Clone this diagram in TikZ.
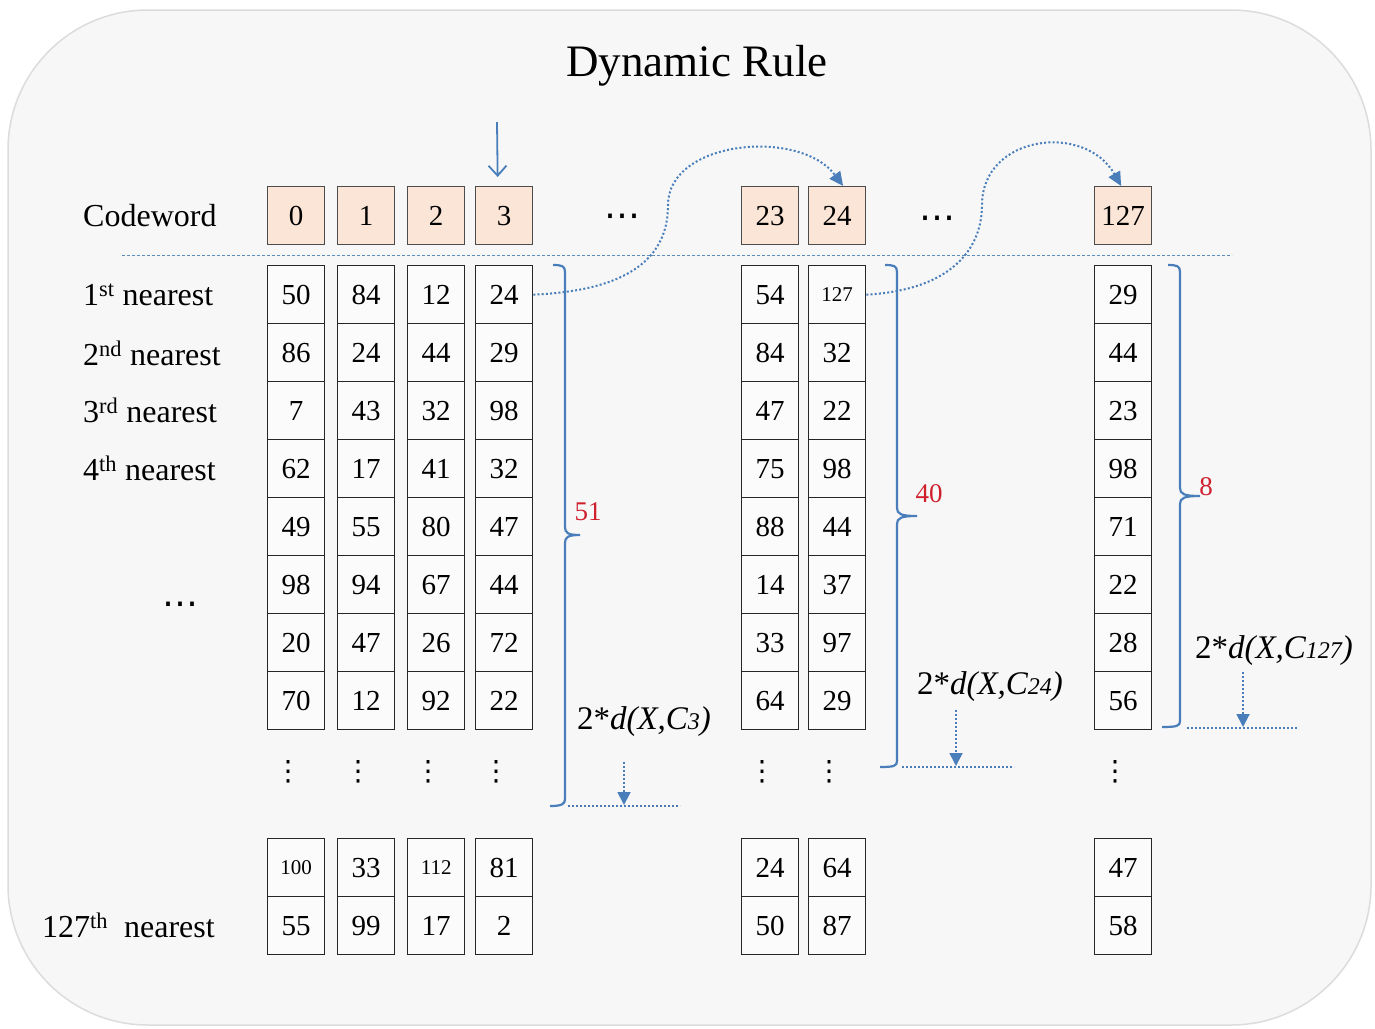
\documentclass[tikz,border=0pt]{standalone}
\usepackage{fontspec}
\setmainfont{Liberation Serif}
\newfontfamily\dotfont{DejaVu Sans}
\usetikzlibrary{arrows.meta}

\definecolor{bgfill}{HTML}{F7F7F7}
\definecolor{bgline}{HTML}{DCDCDC}
\definecolor{cellfill}{HTML}{FBFBFB}
\definecolor{peach}{HTML}{FBE5D6}
\definecolor{linkblue}{HTML}{4A7EBB}
\definecolor{sepblue}{HTML}{5B8DBA}
\definecolor{countred}{HTML}{D0202E}

\tikzset{
  cellbox/.style={draw=black!85, line width=1.3pt, fill=cellfill,
    minimum width=57pt, minimum height=58pt, inner sep=0pt,
    anchor=north west, font=\fontsize{29}{30}\selectfont},
  codebox/.style={cellbox, fill=peach, draw=black!70},
  rowlabel/.style={anchor=west, inner sep=0pt, font=\fontsize{32}{34}\selectfont},
  countlbl/.style={inner sep=0pt, text=countred, font=\fontsize{27}{28}\selectfont},
  distlbl/.style={inner sep=0pt, font=\fontsize{33}{34}\selectfont},
  bracestyle/.style={draw=linkblue, line width=2.2pt},
  hop/.style={draw=linkblue, line width=2pt, dash pattern=on 2pt off 2.2pt,
    -{Triangle[length=14pt,width=13pt]}},
  limit/.style={draw=linkblue, line width=1.8pt, dash pattern=on 2pt off 2pt},
  drop/.style={draw=linkblue, line width=1.8pt, dash pattern=on 2pt off 2pt,
    -{Triangle[length=13pt,width=13pt]}},
  hdots/.style={inner sep=0pt, font=\dotfont\fontsize{36}{36}\selectfont},
  vdotsym/.style={inner sep=0pt, font=\dotfont\fontsize{28}{28}\selectfont},
}

% number inside a cell: three-digit entries are set smaller
\newcommand\cellnum[1]{\ifnum#1>99 {\fontsize{21}{22}\selectfont#1}\else#1\fi}

% one column of neighbour cells: index, left x, eight upper values, two lower values
\newcommand\drawcol[5]{%
  \foreach \v [count=\r from 0] in {#3} {
    \node[cellbox] (c#1r\r) at (#2,265+58*\r) {\cellnum{\v}};
  }
  \node[cellbox] (c#1r8) at (#2,838) {\cellnum{#4}};
  \node[cellbox] (c#1r9) at (#2,896) {\cellnum{#5}};
  \node[vdotsym] (v#1) at (#2+21,772) {⋮};
}

% distance label with a small italic index
\newcommand\dist[1]{2*\textit{d(X,C{\fontsize{24}{24}\selectfont#1})}}

\begin{document}
\begin{tikzpicture}[x=1pt, y=-1pt]
  % canvas and rounded panel
  \fill[white] (0,0) rectangle (1375,1028);
  \useasboundingbox (0,0) rectangle (1375,1028);
  \draw[fill=bgfill, draw=bgline, line width=1.5pt, rounded corners=140pt]
    (8,10) rectangle (1371,1025);

  % title
  \node[inner sep=0pt, font=\fontsize{45}{46}\selectfont] (title) at (697,66) {Dynamic Rule};

  % codeword row
  \foreach \c/\x/\k in {0/267/0, 1/337/1, 2/407/2, 3/475/3, 4/741/23, 5/808/24, 6/1094/127}
    \node[codebox] (k\c) at (\x,186) {\k};

  % separator between codewords and neighbour lists
  \coordinate (sepL) at (122,255);
  \coordinate (sepR) at (1232,255);
  \draw[sepblue, line width=1pt, dash pattern=on 3pt off 2pt] (sepL) -- (sepR);

  % neighbour lists
  \drawcol{0}{267}{50,86,7,62,49,98,20,70}{100}{55}
  \drawcol{1}{337}{84,24,43,17,55,94,47,12}{33}{99}
  \drawcol{2}{407}{12,44,32,41,80,67,26,92}{112}{17}
  \drawcol{3}{475}{24,29,98,32,47,44,72,22}{81}{2}
  \drawcol{4}{741}{54,84,47,75,88,14,33,64}{24}{50}
  \drawcol{5}{808}{127,32,22,98,44,37,97,29}{64}{87}
  \drawcol{6}{1094}{29,44,23,98,71,22,28,56}{47}{58}

  % row labels
  \node[rowlabel] (lcw) at (83,216) {Codeword};
  \node[rowlabel] (l1) at (83,295) {1\textsuperscript{st} nearest};
  \node[rowlabel] (l2) at (83,353) {2\textsuperscript{nd} nearest};
  \node[rowlabel] (l3) at (83,410) {3\textsuperscript{rd} nearest};
  \node[rowlabel] (l4) at (83,468) {4\textsuperscript{th} nearest};
  \node[rowlabel] (l127) at (42,925) {127\textsuperscript{th}\enspace nearest};

  % ellipses
  \node[hdots] (hd1) at (180,609) {⋯};
  \node[hdots] (hd2) at (622,221) {⋯};
  \node[hdots] (hd3) at (937,223) {⋯};

  % current codeword marker
  \coordinate (start) at (497,122);
  \draw[linkblue, line width=1.8pt, -{Straight Barb[length=10pt,width=18pt]}]
    (start) -- ([xshift=-6.5pt,yshift=9pt]k3.north);

  % hops to the first nearest codeword
  \coordinate (bend1) at (668,205);
  \draw[hop] (c3r0.east) .. controls (640,290) and (668,250) .. (bend1)
    .. controls (668,140) and (800,128) .. ([xshift=6pt]k5.north);
  \coordinate (bend2) at (982,205);
  \draw[hop] (c5r0.east) .. controls (950,290) and (982,250) .. (bend2)
    .. controls (982,135) and (1085,122) .. ([xshift=-2pt]k6.north);

  % braces grouping the entries within the distance bound
  \draw[bracestyle] (553,265) .. controls (562,265) and (565,266) .. (565,272)
    -- (565,527) .. controls (565,533) and (568,535) .. (580,535)
    .. controls (568,535) and (565,537) .. (565,543)
    -- (565,799) .. controls (565,804) and (562,806) .. (550,806);
  \draw[bracestyle] (885,265) .. controls (894,265) and (897,266) .. (897,272)
    -- (897,508) .. controls (897,514) and (901,516) .. (917,516)
    .. controls (901,516) and (897,518) .. (897,524)
    -- (897,761) .. controls (897,766) and (894,767) .. (880,767);
  \draw[bracestyle] (1168,265) .. controls (1177,265) and (1180,266) .. (1180,272)
    -- (1180,488) .. controls (1180,494) and (1184,496) .. (1200,496)
    .. controls (1184,496) and (1180,498) .. (1180,504)
    -- (1180,721) .. controls (1180,726) and (1177,727) .. (1162,727);

  % counts inside each bound
  \node[countlbl] (n1) at (588,512) {51};
  \node[countlbl] (n2) at (929,494) {40};
  \node[countlbl] (n3) at (1206,487) {8};

  % distance bounds
  \node[distlbl] (dist1) at (644,722) {\dist{3}};
  \node[distlbl] (dist2) at (990,687) {\dist{24}};
  \node[distlbl] (dist3) at (1274,651) {\dist{127}};

  \coordinate (b1a) at (568,806);  \coordinate (b1b) at (680,806);
  \coordinate (b2a) at (902,767);  \coordinate (b2b) at (1014,767);
  \coordinate (b3a) at (1187,728); \coordinate (b3b) at (1297,728);
  \draw[limit] (b1a) -- (b1b);
  \draw[limit] (b2a) -- (b2b);
  \draw[limit] (b3a) -- (b3b);

  \coordinate (p1) at (624,762);  \coordinate (q1) at (624,805);
  \coordinate (p2) at (956,710);  \coordinate (q2) at (956,766);
  \coordinate (p3) at (1243,672); \coordinate (q3) at (1243,727);
  \draw[drop] (p1) -- (q1);
  \draw[drop] (p2) -- (q2);
  \draw[drop] (p3) -- (q3);
\end{tikzpicture}
\end{document}
